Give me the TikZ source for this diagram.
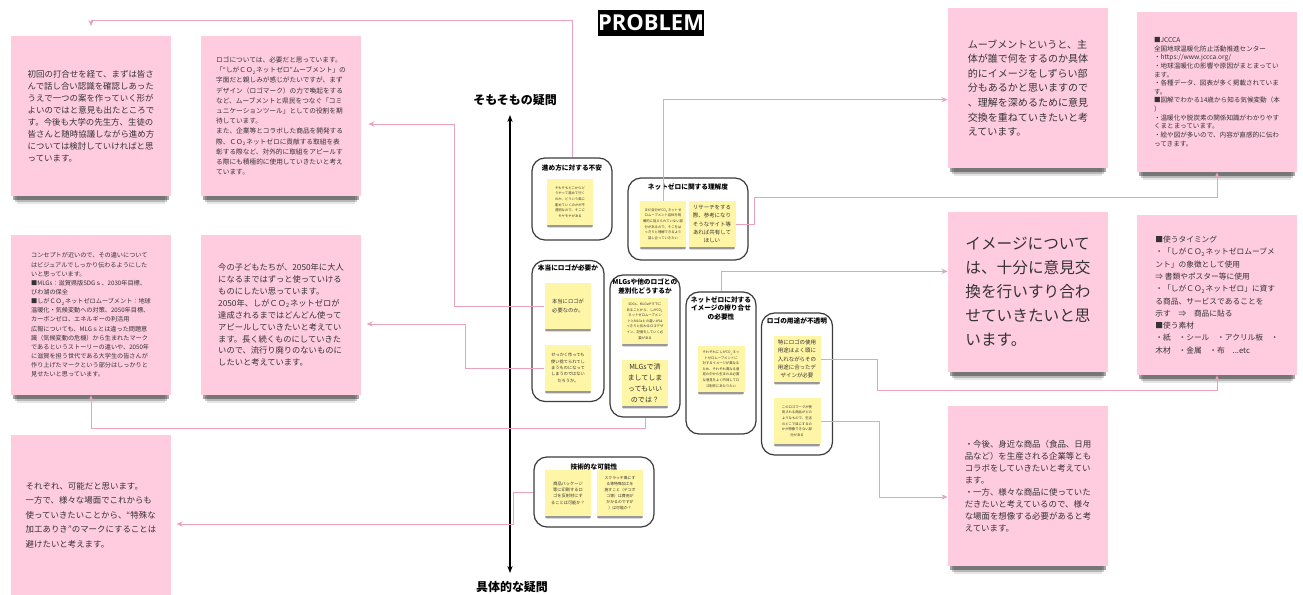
\documentclass[tikz,border=0pt]{standalone}
\usepackage{fontspec}
\setmainfont{Noto Sans CJK JP}
\newfontfamily\titlefont{Open Sans}
\usetikzlibrary{arrows.meta,shadows}
\definecolor{notepink}{HTML}{FFCCDF}
\definecolor{stickyyellow}{HTML}{FFF5A6}
\definecolor{linkpink}{HTML}{E8A2BE}
\definecolor{txtgray}{HTML}{333333}
\definecolor{grpgray}{HTML}{3C3C3C}
\newcommand{\cotwo}{ＣＯ\textsubscript{2}}
\newcommand{\cotwosm}{CO\textsubscript{2}}
\tikzset{
  pinknote/.style={fill=notepink, minimum width=3.2cm, minimum height=3.2cm,
    inner sep=0pt, align=left, text=txtgray,
    drop shadow={shadow xshift=0pt, shadow yshift=-3.5pt, shadow scale=0.97, opacity=0.35, fill=black},
    drop shadow={shadow xshift=0pt, shadow yshift=-6pt, shadow scale=0.95, opacity=0.2, fill=black},
    drop shadow={shadow xshift=0pt, shadow yshift=-8.5pt, shadow scale=0.93, opacity=0.1, fill=black}},
  sticky/.style={fill=stickyyellow, minimum width=0.94cm, minimum height=0.92cm,
    inner sep=0pt, align=center, text=txtgray,
    drop shadow={shadow xshift=0pt, shadow yshift=-1.6pt, shadow scale=0.97, opacity=0.3, fill=black},
    drop shadow={shadow xshift=0pt, shadow yshift=-2.8pt, shadow scale=0.94, opacity=0.14, fill=black}},
  grp/.style={draw=grpgray, line width=0.7pt, rounded corners=0.26cm, fill=white},
  grptitle/.style={anchor=north, font=\bfseries\fontsize{3.8}{5}\selectfont, align=center, inner sep=0pt},
  link/.style={draw=linkpink, line width=0.5pt, -{Stealth[length=3.5pt,width=3pt]}},
  tiny/.style={font=\fontsize{1.9}{3.2}\selectfont},
  mid/.style={font=\fontsize{3.1}{4.7}\selectfont},
}
\begin{document}
\begin{tikzpicture}[x=0.02cm, y=-0.02cm]
  \useasboundingbox[fill=white] (0,0) rectangle (1303,595);
  % title and axis
  \node[fill=black, text=white, font=\titlefont\bfseries\fontsize{12.5}{14}\selectfont,
    minimum width=2.14cm, minimum height=0.54cm, inner sep=0pt] (title) at (651,23) {PROBLEM};
  \node[font=\bfseries\fontsize{6.8}{8}\selectfont, inner sep=1pt] (qtop) at (515,100) {そもそもの疑問};
  \node[font=\bfseries\fontsize{6.8}{8}\selectfont, inner sep=1pt] (qbottom) at (512,587) {具体的な疑問};
  \draw[line width=0.8pt, {Stealth[length=4pt]}-{Stealth[length=4pt]}]
    (510,115) coordinate (atop) -- (510,573) coordinate (abottom);

  % answers, left side
  \node[pinknote, font=\fontsize{4.8}{6.8}\selectfont] (L1) at (91,116) {%
    初回の打合せを経て、まずは皆さ\\
    んで話し合い認識を確認しあった\\
    うえで一つの案を作っていく形が\\
    よいのではと意見も出たところで\\
    す。今後も大学の先生方、生徒の\\
    皆さんと随時協議しながら進め方\\
    については検討していければと思\\
    っています。};
  \node[pinknote, font=\fontsize{3.8}{5.8}\selectfont] (L2) at (281,116) {%
    ロゴについては、必要だと思っています。\\
    「“しが\cotwo ネットゼロ”ムーブメント」の\\
    字面だと親しみが感じがたいですが、まず\\
    デザイン（ロゴマーク）の力で喚起をする\\
    など、ムーブメントと県民をつなぐ「コミ\\
    ュニケーションツール」としての役割を期\\
    待しています。\\
    また、企業等とコラボした商品を開発する\\
    際、\cotwo ネットゼロに貢献する取組を表\\
    彰する際など、対外的に取組をアピールす\\
    る際にも積極的に使用していきたいと考え\\
    ています。};
  \node[pinknote, font=\fontsize{3.5}{5.2}\selectfont] (L3) at (91,315) {%
    コンセプトが近いので、その違いについて\\
    はビジュアルでしっかり伝わるようにした\\
    いと思っています。\\
    ■MLGs：滋賀県版SDGｓ、2030年目標、\\
    びわ湖の保全\\
    ■しが\cotwo ネットゼロムーブメント：地球\\
    温暖化・気候変動への対策、2050年目標、\\
    カーボンゼロ、エネルギーの利活用\\
    広報についても、MLGｓとは違った問題意\\
    識（気候変動の危機）から生まれたマーク\\
    であるというストーリーの違いや、2050年\\
    に滋賀を担う世代である大学生の皆さんが\\
    作り上げたマークという部分はしっかりと\\
    見せたいと思っています。};
  \node[pinknote, font=\fontsize{4.7}{6.8}\selectfont] (L4) at (281,315) {%
    今の子どもたちが、2050年に大人\\
    になるまではずっと使っていける\\
    ものにしたい思っています。\\
    2050年、しが\cotwo ネットゼロが\\
    達成されるまではどんどん使って\\
    アピールしていきたいと考えてい\\
    ます。長く続くものにしていきた\\
    いので、流行り廃りのないものに\\
    したいと考えています。};
  \node[pinknote, font=\fontsize{4.8}{8.3}\selectfont] (L5) at (91,515) {%
    それぞれ、可能だと思います。\\
    一方で、様々な場面でこれからも\\
    使っていきたいことから、“特殊な\\
    加工ありき”のマークにすることは\\
    避けたいと考えます。};

  % answers, right side
  \node[pinknote, font=\fontsize{5.7}{8.3}\selectfont] (R1) at (1028,88) {%
    ムーブメントというと、主\\
    体が誰で何をするのか具体\\
    的にイメージをしずらい部\\
    分もあるかと思いますので\\
    、理解を深めるために意見\\
    交換を重ねていきたいと考\\
    えています。};
  \node[pinknote, font=\fontsize{3.75}{4.9}\selectfont] (R2) at (1217,92) {%
    ■JCCCA\\
    全国地球温暖化防止活動推進センター\\
    ・https://www.jccca.org/\\
    ・地球温暖化の影響や原因がまとまってい\\
    ます。\\
    ・各種データ、図表が多く掲載されていま\\
    す。\\
    ■図解でわかる14歳から知る気候変動（本\\
    ）\\
    ・温暖化や脱炭素の関係知識がわかりやす\\
    くまとまっています。\\
    ・絵や図が多いので、内容が直感的に伝わ\\
    ってきます。};
  \node[pinknote, font=\fontsize{8.9}{13.6}\selectfont] (R3) at (1028,292) {%
    イメージについて\\
    は、十分に意見交\\
    換を行いすり合わ\\
    せていきたいと思\\
    います。};
  \node[pinknote, font=\fontsize{4.4}{7}\selectfont] (R4) at (1217,295) {%
    ■使うタイミング\\
    ・「しが\cotwo ネットゼロムーブメ\\
    ント」の象徴として使用\\
    ⇒ 書類やポスター等に使用\\
    ・「しが\cotwo ネットゼロ」に資す\\
    る商品、サービスであることを\\
    示す　⇒　商品に貼る\\
    ■使う素材\\
    ・紙　・シール　・アクリル板　・\\
    木材　・金属　・布　...etc};
  \node[pinknote, font=\fontsize{4.8}{6.8}\selectfont] (R5) at (1028,486) {%
    ・今後、身近な商品（食品、日用\\
    品など）を生産される企業等とも\\
    コラボをしていきたいと考えてい\\
    ます。\\
    ・一方、様々な商品に使っていた\\
    だきたいと考えているので、様々\\
    な場面を想像する必要があると考\\
    えています。};

  % question groups
  \node[grp, minimum width=1.6cm, minimum height=1.64cm] (g1) at (572,199) {};
  \node[grptitle] (g1t) at ([yshift=-4pt]g1.north) {進め方に対する不安};
  \node[grp, minimum width=2.4cm, minimum height=1.64cm] (g2) at (688,219) {};
  \node[grptitle] (g2t) at ([yshift=-3.5pt]g2.north) {ネットゼロに関する理解度};
  \node[grp, minimum width=1.44cm, minimum height=2.82cm] (g3) at (568,331) {};
  \node[grptitle] (g3t) at ([yshift=-2.5pt]g3.north) {本当にロゴが必要か};
  \node[grp, minimum width=1.4cm, minimum height=2.84cm] (g4) at (645,346) {};
  \node[grptitle] (g4t) at ([yshift=-2.5pt]g4.north) {MLGsや他のロゴとの\\差別化どうするか};
  \node[grp, minimum width=1.4cm, minimum height=2.84cm] (g5) at (721,363) {};
  \node[grptitle] (g5t) at ([yshift=-2.5pt]g5.north) {ネットゼロに対する\\イメージの擦り合せ\\の必要性};
  \node[grp, minimum width=1.42cm, minimum height=2.84cm] (g6) at (797,384) {};
  \node[grptitle] (g6t) at ([yshift=-3pt]g6.north) {ロゴの用途が不透明};
  \node[grp, minimum width=2.4cm, minimum height=1.4cm] (g7) at (594,492) {};
  \node[grptitle] (g7t) at ([yshift=-4pt]g7.north) {技術的な可能性};

  % sticky notes
  \node[sticky, tiny] (s1) at (570,202) {そもそもどこからど\\うやって進めて行く\\のか、どういう風に\\進めていくのかが不\\透明なので、そこに\\モヤモヤがある};
  \node[sticky, tiny] (s2a) at (663,224) {まだ自分が\cotwosm ネットゼ\\ロムーブメント自体を明\\確的に捉えられていない部\\分があるので、そこをは\\っきりと理解できるよう\\話し合っていきたい};
  \node[sticky, mid] (s2b) at (712,224) {リサーチをする\\際、参考になり\\そうなサイト等\\あれば共有して\\ほしい};
  \node[sticky, font=\fontsize{3}{4.7}\selectfont] (s3a) at (568,306) {本当にロゴが\\必要なのか。};
  \node[sticky, font=\fontsize{2.4}{3.6}\selectfont] (s3b) at (568,368) {せっかく作っても\\使い捨てられてし\\まうものになって\\しまうのではない\\だろうか。};
  \node[sticky, tiny] (s4a) at (645,321) {SDGs、MLGsがすでに\\あることから、しが\cotwosm\\ネットゼロムーブメン\\トとMLGsとの違いがは\\っきりと伝わるロゴデザ\\イン、記憶をしていく必\\要がある};
  \node[sticky, font=\fontsize{4}{6.2}\selectfont] (s4b) at (645,383) {MLGsで済\\ましてしま\\ってもいい\\のでは？};
  \node[sticky, tiny] (s5a) at (721,369) {それぞれにしが\cotwosm ネッ\\トゼロムーブメントに\\対するイメージが異なる\\ため、それぞれ異なる意\\見の中から生まれる必要\\な意見をよく吟味してロ\\ゴ制作にあたりたい};
  \node[sticky, mid] (s6a) at (797,359) {特にロゴの使用\\用途はよく頭に\\入れながらその\\用途に合ったデ\\ザインが必要};
  \node[sticky, tiny] (s6b) at (797,421) {このロゴマークが使\\用される商品がどの\\ようなもので、生活\\のどこで目にするの\\かが想像できない部\\分がある};
  \node[sticky, font=\fontsize{2.4}{3.6}\selectfont] (s7a) at (568,493) {商品パッケージ\\等に印刷するロ\\ゴを反射材にす\\ることは可能か？};
  \node[sticky, font=\fontsize{2.2}{3.4}\selectfont] (s7b) at (620,493) {スクラッチ風にす\\る等特殊加工を\\施すこと（デコボ\\コ等）は費用が\\かかるのですが\\）は可能か？};

  % links
  \draw[link, shorten >=5.5pt] (g1.north) -- ++(0,-137) -| (L1.north);
  \draw[link] (s2a.north) -- ++(0,-101) coordinate (k2) -- (k2 -| R1.west);
  \draw[link] (s2b.east) -- ++(19,0) -- ++(0,-27) -| (R2.south);
  \draw[link] (g5.north) -- ++(0,-20) coordinate (k5) -- (k5 -| R3.west);
  \draw[link] (s6a.east) -- ++(57,0) -- ++(0,31) -| (R4.south);
  \draw[link] (s6b.east) -- ++(59,0) -- ++(0,76) coordinate (k6) -- (k6 -| R5.west);
  \draw[link, shorten >=4pt] (s3a.west) -- ++(-90,0) -- ++(0,-182) coordinate (k3) -- (k3 -| L2.east);
  \draw[link, shorten >=3pt] (s3b.west) -- ++(-79,0) -- ++(0,-44) coordinate (k4) -- (k4 -| L4.east);
  \draw[link] (g4.south) -- ++(0,11) -| (L3.south);
  \draw[link, shorten >=3pt] (g7.west) -- ++(-20,0) -- ++(0,32) coordinate (k7) -- (k7 -| L5.east);
\end{tikzpicture}
\end{document}
